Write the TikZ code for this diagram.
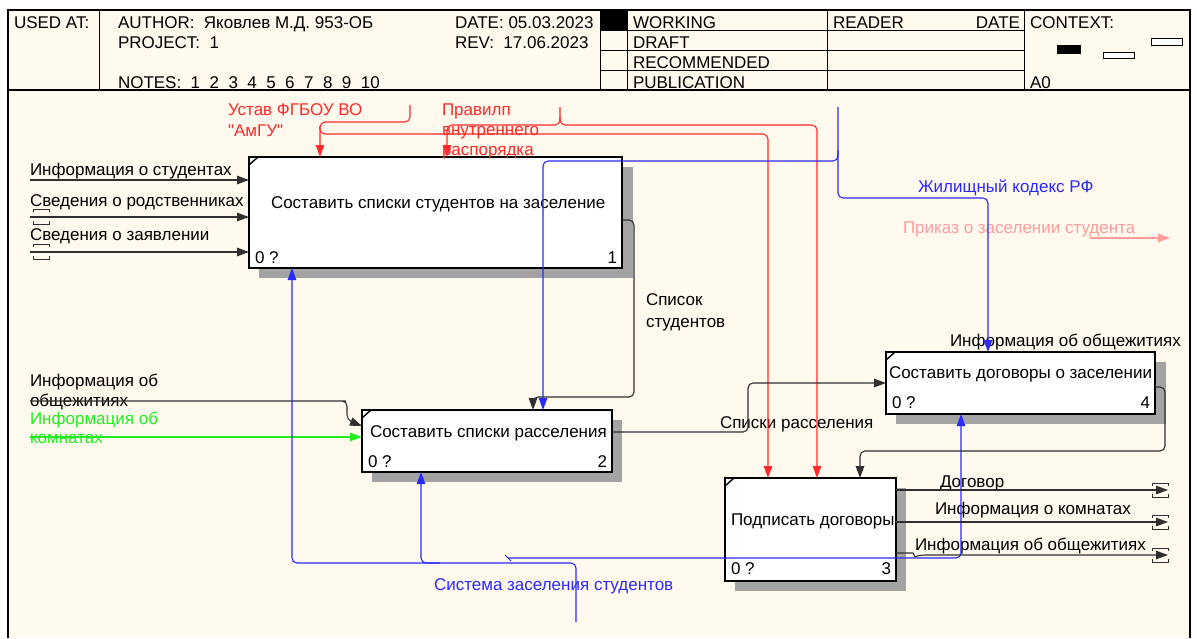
\documentclass[tikz,border=0pt]{standalone}
\usepackage{fontspec}
\setmainfont{Liberation Sans}[Ligatures=TeXOff]
\usetikzlibrary{arrows.meta,calc}
\definecolor{bg}{HTML}{FFF9EE}
\definecolor{rline}{HTML}{FF2A2A}
\definecolor{bline}{HTML}{2A2AFF}
\definecolor{gline}{HTML}{22EE22}
\definecolor{pline}{HTML}{FF9C9C}
\definecolor{kline}{HTML}{303030}
\begin{document}
\begin{tikzpicture}[x=1pt,y=-1pt,
  every node/.style={inner sep=0pt,outer sep=0pt},
  txt/.style={font=\fontsize{17}{20}\selectfont,anchor=base west},
  box/.style={draw=black,line width=2pt,fill=white,anchor=north west},
  shade/.style={fill=black!36,draw=none},
  tip/.style={-{Triangle[length=12pt,width=8.5pt]}},
  conn/.style={line width=1.1pt,rounded corners=5pt},
  kc/.style={conn,draw=kline},
  rc/.style={conn,draw=rline},
  bc/.style={conn,draw=bline},
  tun/.style={line width=0.9pt,draw=kline}
]
\useasboundingbox (0,0) rectangle (1197,638);
% background frame
\fill[bg] (8,10) rectangle (1190,638);
\draw[line width=1.6pt] (8,638) -- (8,10) -- (1190,10) -- (1190,638);
\draw[line width=1.6pt] (8,90) -- (1190,90);
% header grid
\draw[line width=1pt] (99,10) -- (99,90);
\draw[line width=1pt] (600,10) -- (600,90);
\draw[line width=1pt] (627,10) -- (627,90);
\draw[line width=1pt] (827,10) -- (827,90);
\draw[line width=1pt] (1024,10) -- (1024,90);
\foreach \yy in {30.5,50.5,70.5} \draw[line width=1pt] (600,\yy) -- (1024,\yy);
\fill[black] (601,11) rectangle (627,30);
\node[txt] (usedat) at (14,28) {USED AT:};
\node[txt] (author) at (118,28) {AUTHOR:\ \ Яковлев М.Д. 953-ОБ};
\node[txt] (project) at (118,48) {PROJECT:\ \ 1};
\node[txt] (notes) at (118,88) {NOTES:\ \ 1\ \ 2\ \ 3\ \ 4\ \ 5\ \ 6\ \ 7\ \ 8\ \ 9\ \ 10};
\node[txt] (date) at (455,28) {DATE: 05.03.2023};
\node[txt] (rev) at (455,48) {REV:\ \ 17.06.2023};
\node[txt] (working) at (633,28) {WORKING};
\node[txt] (draft) at (633,48) {DRAFT};
\node[txt] (recom) at (633,68) {RECOMMENDED};
\node[txt] (publ) at (633,88) {PUBLICATION};
\node[txt] (reader) at (833,28) {READER};
\node[txt,anchor=base east] (rdate) at (1020,28) {DATE};
\node[txt] (context) at (1030,28) {CONTEXT:};
\node[txt] (a0) at (1030,88) {A0};
\fill[black] (1057,45) rectangle (1081,54);
\draw[line width=0.8pt,fill=white] (1103,52) rectangle (1134,58);
\draw[line width=0.8pt,fill=white] (1151,38) rectangle (1182,45);

% shadows
\fill[shade] (259,167) rectangle (633,278);
\fill[shade] (372,420) rectangle (622,482);
\fill[shade] (735,488) rectangle (906,591);
\fill[shade] (896,362) rectangle (1166,424);

% boxes
\node[box,minimum width=373pt,minimum height=111pt] (b1) at (249,157) {};
\node[box,minimum width=250pt,minimum height=62pt] (b2) at (362,410) {};
\node[box,minimum width=171pt,minimum height=103pt] (b3) at (725,478) {};
\node[box,minimum width=269pt,minimum height=62pt] (b4) at (886,352) {};
\foreach \b in {b1,b2,b3,b4}
  \draw[line width=1.4pt] ($(\b.north west)+(0,8)$) -- ($(\b.north west)+(9,0)$);

\node[txt] (b1t) at (271,208) {Составить списки студентов на заселение};
\node[txt] (b1n) at (255,263) {0 ?};
\node[txt,anchor=base east] (b1i) at (617,263) {1};
\node[txt] (b2t) at (370,437) {Составить списки расселения};
\node[txt] (b2n) at (368,467) {0 ?};
\node[txt,anchor=base east] (b2i) at (607,467) {2};
\node[txt] (b3t) at (731,525) {Подписать договоры};
\node[txt] (b3n) at (731,574) {0 ?};
\node[txt,anchor=base east] (b3i) at (891,574) {3};
\node[txt] (b4t) at (889,378) {Составить договоры о заселении};
\node[txt] (b4n) at (892,408) {0 ?};
\node[txt,anchor=base east] (b4i) at (1150,408) {4};

% labels
\node[txt,text=rline] (l1) at (228,115) {Устав ФГБОУ ВО};
\node[txt,text=rline] (l1b) at (228,136) {"АмГУ"};
\node[txt,text=rline] (l2) at (442,115) {Правилп};
\node[txt,text=rline] (l2b) at (442,135) {внутреннего};
\node[txt,text=rline] (l2c) at (442,155) {распорядка};
\node[txt] (i1) at (30,175) {Информация о студентах};
\node[txt] (i2) at (30,206) {Сведения о родственниках};
\node[txt] (i3) at (30,240) {Сведения о заявлении};
\node[txt,text=bline] (zh) at (918,192) {Жилищный кодекс РФ};
\node[txt,text=pline] (pr) at (903,233) {Приказ о заселении студента};
\node[txt] (ss1) at (646,305) {Список};
\node[txt] (ss2) at (646,327) {студентов};
\node[txt] (io4) at (950,346) {Информация об общежитиях};
\node[txt] (io1) at (30,386) {Информация об};
\node[txt] (io1b) at (30,406) {общежитиях};
\node[txt,text=gline] (ik1) at (30,424) {Информация об};
\node[txt,text=gline] (ik1b) at (30,443) {комнатах};
\node[txt] (sr) at (720,428) {Списки расселения};
\node[txt] (dog) at (940,487) {Договор};
\node[txt] (ik2) at (935,514) {Информация о комнатах};
\node[txt] (io2) at (915,550) {Информация об общежитиях};
\node[txt,text=bline] (sys) at (434,590) {Система заселения студентов};

% free ends
\coordinate (ustavTop) at (410,105);
\coordinate (pravTop) at (560,107);
\coordinate (zhTop) at (838,107);
\coordinate (sysBot) at (576,622);
\coordinate (in1) at (30,180);
\coordinate (in2) at (30,217);
\coordinate (in3) at (30,252);
\coordinate (in4) at (30,401);
\coordinate (in5) at (30,437);
\coordinate (out1) at (1168,490);
\coordinate (out2) at (1168,522);
\coordinate (out3) at (1168,555);
\coordinate (pinkS) at (1090,238);
\coordinate (pinkE) at (1170,238);

% inputs to b1
\draw[kc,tip] (in1) -- ($(b1.north west)+(0,23)$);
\draw[kc,tip] (in2) -- ($(b1.north west)+(0,60)$);
\draw[kc,tip] (in3) -- ($(b1.north west)+(0,95)$);
\draw[tun] (33,212) -- (33,209) -- (49,209) -- (49,212);
\draw[tun] (33,221) -- (33,224) -- (49,224) -- (49,221);
\draw[tun] (33,247) -- (33,244) -- (49,244) -- (49,247);
\draw[tun] (33,256) -- (33,259) -- (49,259) -- (49,256);

% inputs to b2
\draw[kc,tip] (in4) -- (341,401) -- (347,401) -- (347,420) -- ($(b2.north west)+(0,16)$);
\draw[conn,draw=gline,tip] (in5) -- ($(b2.north west)+(0,27)$);

% red controls
\draw[rc,tip] (ustavTop) -- (410,122) -- (320,122) -- ($(b1.north west)+(71,0)$);
\draw[rc,tip] (320,126) -- (320,134) -- (768,134) -- ($(b3.north west)+(43,0)$);
\draw[rc,tip] (pravTop) -- (560,125) -- (447,125) -- ($(b1.north west)+(198,0)$);
\draw[rc,tip] (560,117) -- (560,125) -- (817,125) -- ($(b3.north west)+(92,0)$);

% blue mechanisms top
\draw[bc,tip] (zhTop) -- (838,198) -- (988,198) -- ($(b4.north west)+(102,0)$);
\draw[bc,tip] (838,150) -- (838,161) -- (543,161) -- ($(b2.north west)+(181,0)$);

% blue mechanisms bottom
\draw[bc,tip] (sysBot) -- (576,563) -- (292,563) -- ($(b1.south west)+(43,0)$);
\draw[bc,tip] (440,563) -- (421,563) -- ($(b2.south west)+(59,0)$);
\draw[bc,tip] (508,558) -- (961,558) -- ($(b4.south west)+(75,0)$);
\draw[line width=0.8pt,draw=bline] (505,555) -- (511,561);

% black flows between boxes
\draw[kc,tip] ($(b1.north east)+(0,63)$) -- (634,220) -- (634,397) -- (533,397) -- ($(b2.north west)+(171,0)$);
\draw[kc,tip] ($(b2.north east)+(0,22)$) -- (748,432) -- (748,383) -- ($(b4.north west)+(0,31)$);
\draw[kc,tip] ($(b4.north east)+(0,35)$) -- (1165,387) -- (1165,451) -- (860,451) -- ($(b3.north west)+(135,0)$);

% outputs of b3
\draw[kc,tip] ($(b3.north east)+(0,12)$) -- (out1);
\draw[kc,tip] ($(b3.north east)+(0,44)$) -- (out2);
\draw[kc,tip] ($(b3.north east)+(0,75)$) -- (908,553) .. controls (914,553) and (914,557) .. (920,555) -- (out3);
\foreach \yy in {490,522,555}{
  \draw[tun] (1152,\yy-4) -- (1152,\yy-7) -- (1168,\yy-7) -- (1168,\yy-4);
  \draw[tun] (1152,\yy+4) -- (1152,\yy+7) -- (1168,\yy+7) -- (1168,\yy+4);
}

% pink output
\draw[conn,draw=pline,tip] (pinkS) -- (pinkE);
\end{tikzpicture}
\end{document}
